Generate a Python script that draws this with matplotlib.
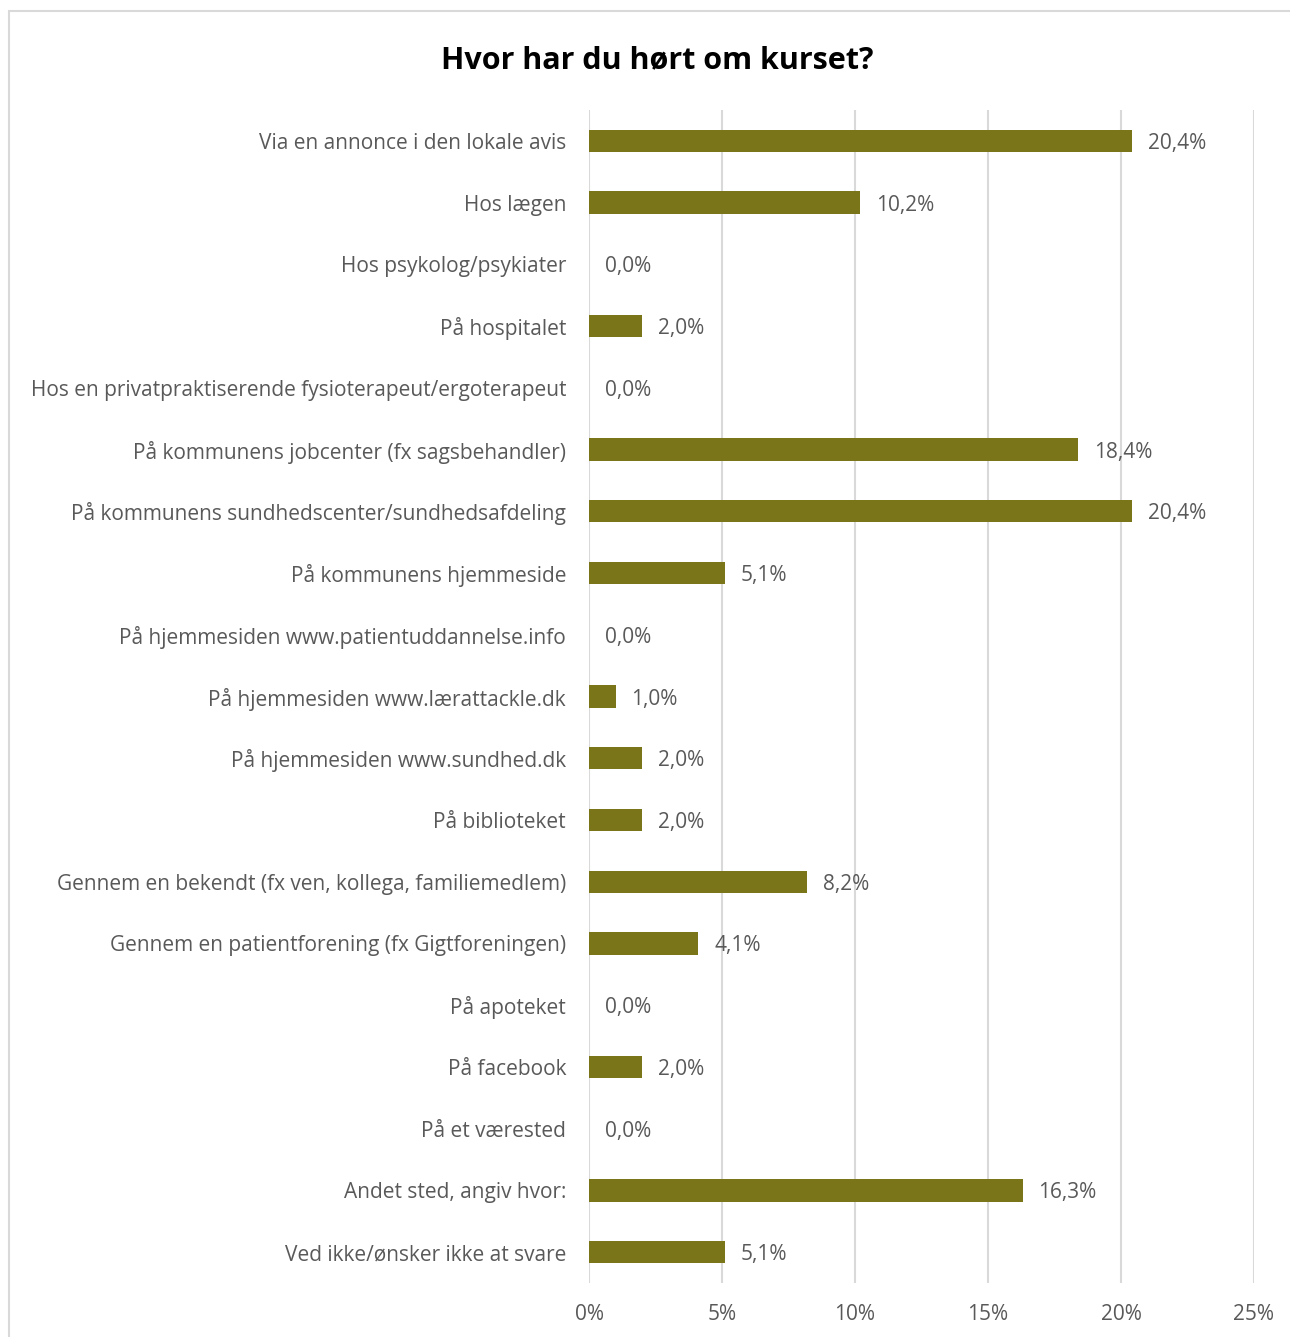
import matplotlib.pyplot as plt
from matplotlib.patches import Rectangle

plt.rcParams['font.family'] = ['Open Sans', 'DejaVu Sans']

categories = [
    "Via en annonce i den lokale avis",
    "Hos lægen",
    "Hos psykolog/psykiater",
    "På hospitalet",
    "Hos en privatpraktiserende fysioterapeut/ergoterapeut",
    "På kommunens jobcenter (fx sagsbehandler)",
    "På kommunens sundhedscenter/sundhedsafdeling",
    "På kommunens hjemmeside",
    "På hjemmesiden www.patientuddannelse.info",
    "På hjemmesiden www.lærattackle.dk",
    "På hjemmesiden www.sundhed.dk",
    "På biblioteket",
    "Gennem en bekendt (fx ven, kollega, familiemedlem)",
    "Gennem en patientforening (fx Gigtforeningen)",
    "På apoteket",
    "På facebook",
    "På et værested",
    "Andet sted, angiv hvor:",
    "Ved ikke/ønsker ikke at svare",
]
values = [20.4, 10.2, 0.0, 2.0, 0.0, 18.4, 20.4, 5.1, 0.0, 1.0, 2.0, 2.0, 8.2, 4.1, 0.0, 2.0, 0.0, 16.3, 5.1]
xticks = [0, 5, 10, 15, 20, 25]

bar_color = '#7B7519'
text_color = '#595959'
fs = 15

fig = plt.figure(figsize=(12.9, 13.37), dpi=100)
ax = fig.add_axes([589/1290, 1 - 1283/1337, (1254 - 589)/1290, (1283 - 110)/1337])

# light border around the chart area
fig.patches.append(Rectangle((9/1290, -0.01), 1.0, 1 - 11/1337 + 0.01, transform=fig.transFigure,
                             fill=False, edgecolor='#D9D9D9', linewidth=1.5))

y = list(range(len(categories)))
ax.barh(y, values, height=0.36, color=bar_color, zorder=3)
for yi, v in zip(y, values):
    ax.text(v + 0.6, yi, f"{v:.1f}%".replace('.', ','), va='center_baseline', ha='left',
            fontsize=fs, color=text_color)

ax.set_ylim(len(categories) - 0.5, -0.5)
ax.set_xlim(0, 25)
ax.set_yticks(y)
ax.set_yticklabels(categories, fontsize=fs, color=text_color, va='center_baseline')
ax.set_xticks(xticks)
ax.set_xticklabels([f"{t}%" for t in xticks], fontsize=fs, color=text_color)
ax.tick_params(axis='both', length=0)
ax.tick_params(axis='y', pad=16.5)
ax.tick_params(axis='x', pad=15)
ax.grid(axis='x', color='#D9D9D9', linewidth=1.5, zorder=0)
for s in ax.spines.values():
    s.set_visible(False)

fig.text(657/1290, 1 - 57/1337, "Hvor har du hørt om kurset?", ha='center', va='center_baseline',
         fontsize=22, fontweight='bold', color='black')

plt.savefig('out.png', dpi=100)
